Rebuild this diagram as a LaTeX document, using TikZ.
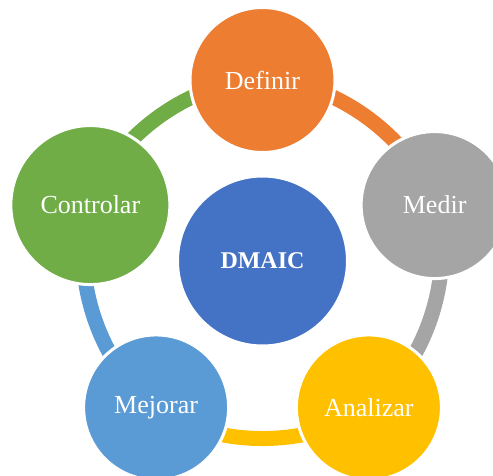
\documentclass[tikz,border=0pt]{standalone}
\usepackage{fontspec}
\setmainfont{Liberation Serif}
\usepackage{tikz}
\usetikzlibrary{calc}

\definecolor{cDef}{HTML}{ED7D31}
\definecolor{cMed}{HTML}{A5A5A5}
\definecolor{cAna}{HTML}{FFC000}
\definecolor{cMej}{HTML}{5B9BD5}
\definecolor{cCon}{HTML}{70AD47}
\definecolor{cMid}{HTML}{4472C4}

\begin{document}
\begin{tikzpicture}[x=1pt,y=1pt]
\path [use as bounding box] (-262.5,-214) rectangle (230.5,261);
\tikzstyle{phase} = [circle, draw=white, line width=3pt, inner sep=0pt, minimum size=145pt, text=white, font=\fontsize{26}{30}\selectfont]
\tikzstyle{hub} = [phase, minimum size=170pt, font=\fontsize{24}{28}\selectfont\bfseries]
\tikzstyle{ring} = [line width=15pt, bend left=36, looseness=0.85]
\coordinate (C) at (0,0);
\coordinate (pD) at (90:181);
\coordinate (pM) at (18:181);
\coordinate (pA) at (-54:181);
\coordinate (pJ) at (-126:181);
\coordinate (pC) at (162:181);
\draw[ring, cDef] (pD) to (pM);
\draw[ring, cMed] (pM) to (pA);
\draw[ring, cAna] (pA) to (pJ);
\draw[ring, cMej] (pJ) to (pC);
\draw[ring, cCon] (pC) to (pD);
\node[hub, fill=cMid] (dmaic) at (C) {DMAIC};
\node[phase, fill=cDef] (def) at (pD) {Definir};
\node[phase, fill=cMed, minimum size=147pt] (med) at (pM) {Medir};
\node[phase, fill=cAna] (ana) at (pA) {Analizar};
\node[phase, fill=cMej] (mej) at (pJ) {Mejorar};
\node[phase, fill=cCon, minimum size=159pt] (con) at (pC) {Controlar};
\end{tikzpicture}
\end{document}
